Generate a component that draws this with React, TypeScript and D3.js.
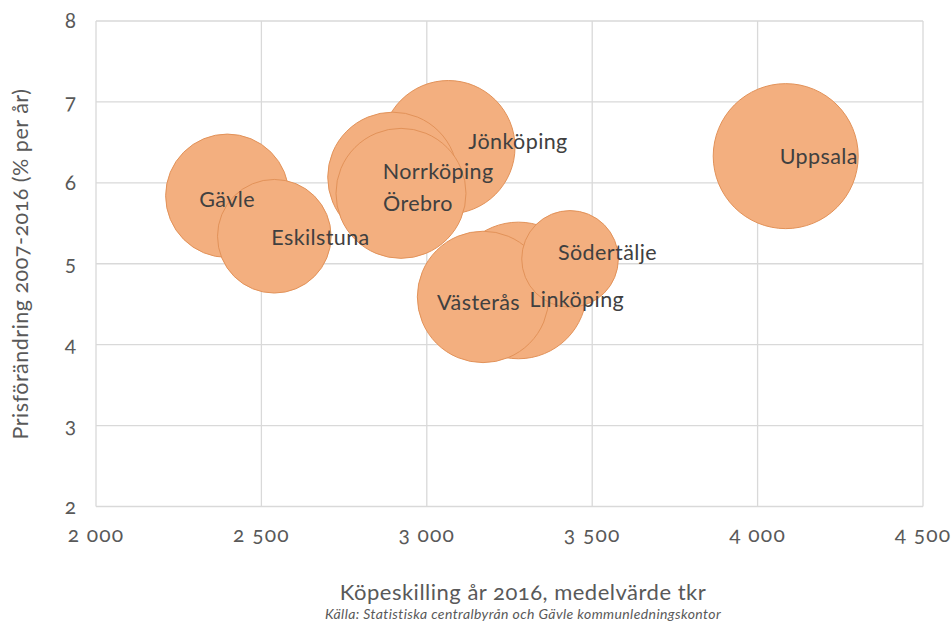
import React from "react";
import * as d3 from "d3";

const cities = ["Jönköping", "Norrköping", "Örebro", "Gävle", "Eskilstuna", "Linköping", "Västerås", "Södertälje", "Uppsala"];
const price = [3065, 2897, 2922, 2397, 2539, 3277, 3170, 3433, 4085];
const change = [6.44, 6.07, 5.87, 5.84, 5.34, 4.67, 4.59, 5.06, 6.33];
const bubbleSize = [4449, 4225, 4225, 3807, 3226, 4665, 4316, 2333, 5256];

const xTicks = [2000, 2500, 3000, 3500, 4000, 4500];
const yTicks = [2, 3, 4, 5, 6, 7, 8];

const xTitle = "Köpeskilling år 2016, medelvärde tkr";
const yTitle = "Prisförändring 2007-2016 (% per år)";
const source = "Källa: Statistiska centralbyrån och Gävle kommunledningskontor";

// label placement (layout): offset of text start / vertical centre from bubble centre
const labelOffset: Record<string, [number, number]> = {
  "Gävle": [-28, 4],
  "Eskilstuna": [-3, 1],
  "Norrköping": [-10, -6],
  "Örebro": [-18, 10],
  "Jönköping": [20, -6],
  "Uppsala": [-6, 0],
  "Västerås": [-46, 6],
  "Linköping": [11, 9],
  "Södertälje": [-12, -6],
};

const W = 952;
const H = 621;
const M = { left: 96, right: 923, top: 21, bottom: 506.5 };

export default function App() {
  const x = d3.scaleLinear().domain([2000, 4500]).range([M.left, M.right]);
  const y = d3.scaleLinear().domain([2, 8]).range([M.bottom, M.top]);
  const r = d3.scaleSqrt().domain([0, d3.max(bubbleSize) as number]).range([0, 72.5]);
  const fmt = (v: number) => d3.format(",")(v).replace(",", " ");
  const font = "Lato, 'Open Sans', sans-serif";
  const textColor = "#404040";
  const axisColor = "#595959";
  const grid = "#D9D9D9";

  return (
    <svg width={W} height={H} style={{ position: "absolute", left: 0, top: 0, background: "#fff" }} fontFamily={font}>
      <g style={{ fontVariantNumeric: "oldstyle-nums" }}>
        {xTicks.map((t) => (
          <line key={"gx" + t} x1={x(t)} x2={x(t)} y1={M.top} y2={M.bottom} stroke={grid} strokeWidth={1.3} />
        ))}
        {yTicks.map((t) => (
          <line key={"gy" + t} x1={M.left} x2={M.right} y1={y(t)} y2={y(t)} stroke={grid} strokeWidth={1.3} />
        ))}
        {yTicks.map((t) => (
          <text key={"ty" + t} x={76} y={y(t)} dy="0.35em" textAnchor="end" fontSize={21} fill={axisColor}>
            {t}
          </text>
        ))}
        {xTicks.map((t) => (
          <text key={"tx" + t} x={x(t)} y={542} textAnchor="middle" fontSize={21} letterSpacing={1.2} fill={axisColor}>
            {fmt(t)}
          </text>
        ))}
      </g>
      {cities.map((c, i) => (
        <circle
          key={"c" + c}
          cx={x(price[i])}
          cy={y(change[i])}
          r={r(bubbleSize[i])}
          fill="#F3AF7F"
          stroke="#E29259"
          strokeWidth={1}
        />
      ))}
      {cities.map((c, i) => {
        const [dx, dy] = labelOffset[c] || [0, 0];
        return (
          <text
            key={"l" + c}
            x={x(price[i]) + dx}
            y={y(change[i]) + dy}
            dy="0.35em"
            fontSize={21.5}
            letterSpacing={0.4}
            fill={textColor}
          >
            {c}
          </text>
        );
      })}
      <text
        x={523}
        y={600}
        textAnchor="middle"
        fontSize={22}
        letterSpacing={0.5}
        fill={axisColor}
        style={{ fontVariantNumeric: "oldstyle-nums" }}
      >
        {xTitle}
      </text>
      <text x={523} y={619} textAnchor="middle" fontSize={14} letterSpacing={0.4} fontStyle="italic" fill={axisColor}>
        {source}
      </text>
      <text
        transform={`translate(28, 264) rotate(-90)`}
        textAnchor="middle"
        fontSize={21.5}
        letterSpacing={0.5}
        fill={axisColor}
        style={{ fontVariantNumeric: "oldstyle-nums" }}
      >
        {yTitle}
      </text>
    </svg>
  );
}
